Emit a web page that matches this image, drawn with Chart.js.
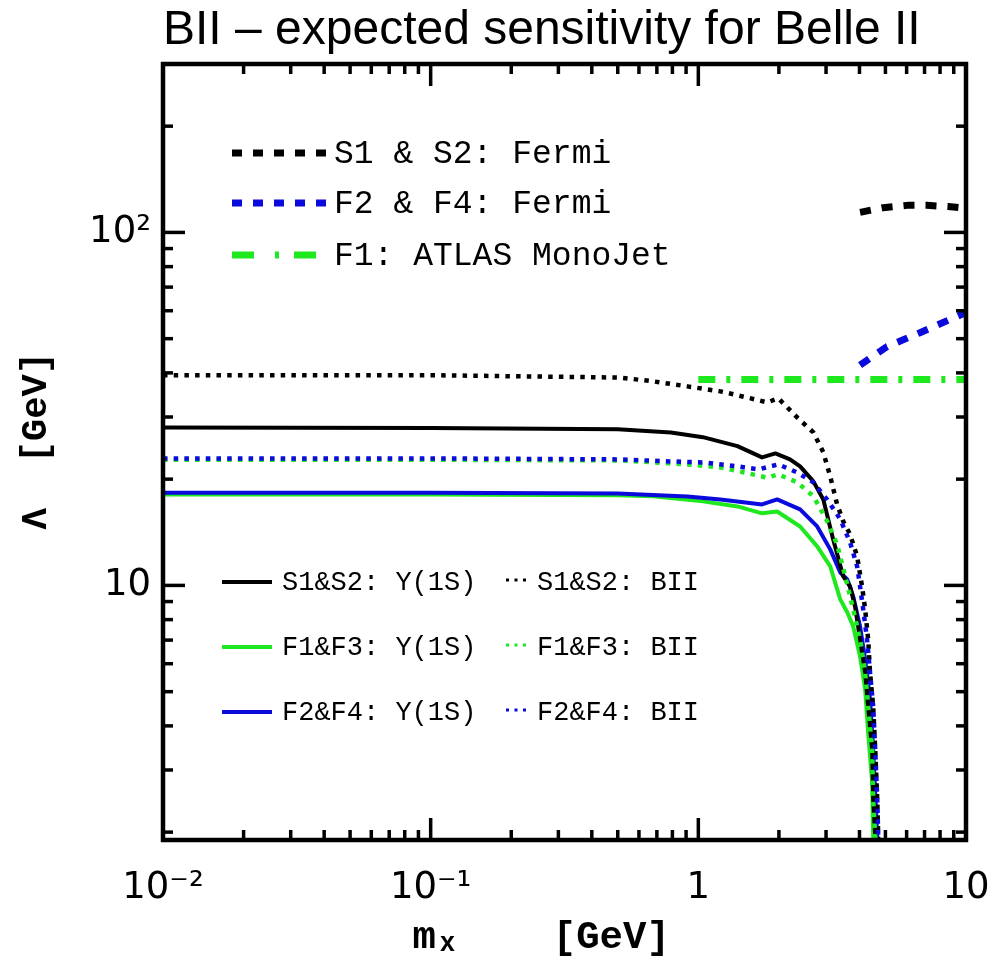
<!DOCTYPE html>
<html>
<head>
<meta charset="utf-8">
<script src="https://cdn.jsdelivr.net/npm/chart.js@4/dist/chart.umd.min.js"></script>
<style>
html,body{margin:0;padding:0;background:#fff;}
#wrap{width:1000px;height:966px;position:relative;}
</style>
</head>
<body>
<div id="wrap"><canvas id="c" width="1000" height="966"></canvas></div>
<script>
// ---- tick labels ----
const xTickValues = [0.01, 0.1, 1, 10];
const xTickLabels = ['10\u207B\u00B2', '10\u207B\u00B9', '1', '10'];
const yTickValues = [10, 100];
const yTickLabels = ['10', '10\u00B2'];

// ---- series: Upsilon(1S) bounds (solid) ----
const massS12Y   = [0.01, 0.1, 0.5, 0.79, 1.04, 1.40, 1.73, 1.94, 2.20, 2.40, 2.69, 2.93, 3.19, 3.48, 3.69, 3.85, 4.02, 4.20, 4.31, 4.46, 4.50, 4.58, 4.73];
const lambdaS12Y = [28.0, 27.9, 27.7, 27.1, 26.3, 24.8, 23.05, 23.65, 22.75, 21.74, 19.71, 17.52, 13.5, 10.6, 9.93, 8.72, 7.03, 5.67, 4.54, 3.43, 2.48, 1.945, 1.0];

const massF13Y   = [0.01, 0.1, 0.5, 0.68, 1.04, 1.40, 1.73, 1.97, 2.40, 2.78, 3.11, 3.39, 3.60, 3.79, 4.02, 4.20, 4.31, 4.46, 4.50, 4.73];
const lambdaF13Y = [18.1, 18.1, 18.0, 17.9, 17.3, 16.74, 16.0, 16.2, 14.69, 12.9, 11.32, 9.13, 8.39, 7.65, 6.29, 5.07, 3.83, 2.77, 1.945, 1.0];

const massF24Y   = [0.01, 0.1, 0.5, 0.91, 1.21, 1.73, 1.97, 2.40, 2.78, 3.11, 3.39, 3.60, 3.79, 4.02, 4.20, 4.38, 4.50, 4.66, 4.73];
const lambdaF24Y = [18.3, 18.3, 18.2, 17.87, 17.52, 16.96, 17.52, 16.42, 14.69, 12.65, 10.88, 10.4, 9.31, 7.65, 6.17, 4.75, 3.43, 1.945, 1.0];

// ---- series: Belle II expected (dotted) ----
const massS12B   = [0.01, 0.1, 0.51, 0.68, 0.91, 1.21, 1.52, 1.81, 1.99, 2.34, 2.69, 2.93, 3.11, 3.30, 3.48, 3.69, 3.92, 4.09, 4.20, 4.31, 4.38, 4.50, 4.58, 4.66, 4.70, 4.73];
const lambdaS12B = [39.4, 39.4, 38.8, 37.84, 36.63, 35.45, 34.08, 32.99, 33.9, 29.92, 27.13, 23.81, 20.36, 16.96, 15.18, 13.94, 12.08, 9.93, 8.55, 7.03, 5.67, 4.54, 3.43, 2.48, 1.945, 1.0];

const massF13B   = [0.01, 0.1, 0.51, 0.91, 1.21, 1.60, 1.81, 1.99, 2.34, 2.69, 3.03, 3.30, 3.60, 3.79, 4.02, 4.20, 4.31, 4.46, 4.50, 4.58, 4.73];
const lambdaF13B = [22.7, 22.7, 22.6, 22.02, 21.59, 20.63, 20.2, 20.63, 19.58, 17.9, 15.2, 13.07, 10.07, 8.55, 7.03, 5.67, 4.54, 3.43, 2.48, 1.945, 1.0];

const massF24B   = [0.01, 0.1, 0.51, 0.79, 1.04, 1.40, 1.68, 1.99, 2.34, 2.69, 3.03, 3.30, 3.39, 3.69, 3.92, 4.02, 4.13, 4.27, 4.38, 4.50, 4.58, 4.66, 4.70, 4.73];
const lambdaF24B = [22.9, 22.9, 22.75, 22.45, 22.31, 21.74, 21.31, 22.02, 20.9, 19.58, 17.5, 15.89, 15.38, 13.24, 11.32, 9.93, 8.55, 7.03, 5.67, 4.54, 3.43, 2.48, 1.945, 1.0];

// ---- series: Fermi / ATLAS ----
const massFermiS   = [4.02, 4.90, 6.03, 7.15, 8.57, 10];
const lambdaFermiS = [114, 117.5, 119.3, 119.3, 118.4, 117];
const massFermiF   = [4.02, 5.07, 6.73, 10];
const lambdaFermiF = [42.1, 47.5, 52.0, 59.3];
const massAtlas    = [1.0, 10];
const lambdaAtlas  = [38.3, 38.3];

// ---- labels ----
const chartTitle = 'BII \u2013 expected sensitivity for Belle II';
const xTitle = 'm\u2093    [GeV]  ';
const yTitle = ' \u039B  [GeV]';
const topLegendLabels = ['S1 & S2: Fermi', 'F2 & F4: Fermi', 'F1: ATLAS MonoJet'];
const bottomLegendLeft = ['S1&S2: \u03A5(1S)', 'F1&F3: \u03A5(1S)', 'F2&F4: \u03A5(1S)'];
const bottomLegendRight = ['S1&S2: BII', 'F1&F3: BII', 'F2&F4: BII'];

const BLACK = '#000000', GREEN = '#1ee81e', BLUE = '#0a0adc';
const DOT = [4.5, 6.2], DASH = [11, 11], DASHDOT = [17, 11, 4, 11];

const pts = (xs, ys) => xs.map((x, i) => ({x: x, y: ys[i]}));
const line = (label, xs, ys, color, width, dash) => ({
  label: label, data: pts(xs, ys), borderColor: color, backgroundColor: color,
  borderWidth: width, borderDash: dash, borderCapStyle: 'butt', borderJoinStyle: 'round',
  pointRadius: 0, pointHoverRadius: 0, fill: false, tension: 0
});

// dataset order: first is drawn on top
const datasets = [
  line(topLegendLabels[0], massFermiS, lambdaFermiS, BLACK, 7, DASH),
  line(topLegendLabels[1], massFermiF, lambdaFermiF, BLUE, 7, DASH),
  line(topLegendLabels[2], massAtlas, lambdaAtlas, GREEN, 7, DASHDOT),
  line(bottomLegendRight[2], massF24B, lambdaF24B, BLUE, 4.5, DOT),
  line(bottomLegendRight[1], massF13B, lambdaF13B, GREEN, 4.5, DOT),
  line(bottomLegendRight[0], massS12B, lambdaS12B, BLACK, 4.5, DOT),
  line(bottomLegendLeft[0], massS12Y, lambdaS12Y, BLACK, 4, []),
  line(bottomLegendLeft[2], massF24Y, lambdaF24Y, BLUE, 4, []),
  line(bottomLegendLeft[1], massF13Y, lambdaF13Y, GREEN, 4, [])
];

// minor / major tick values for inner tick marks
const xMinor = [], yMinor = [];
for (const d of [0.01, 0.1, 1]) for (let k = 2; k <= 9; k++) xMinor.push(+(d * k).toPrecision(3));
for (const d of [1, 10]) for (let k = 2; k <= 9; k++) yMinor.push(d * k);
yMinor.push(200);

const frameTicks = {
  id: 'frameTicks',
  afterDraw(chart) {
    const {ctx, chartArea: a, scales: {x, y}} = chart;
    ctx.save();
    ctx.setLineDash([]);
    ctx.strokeStyle = '#000';
    ctx.lineCap = 'butt';
    const seg = (x1, y1, x2, y2) => { ctx.beginPath(); ctx.moveTo(x1, y1); ctx.lineTo(x2, y2); ctx.stroke(); };
    ctx.lineWidth = 3.5;
    for (const v of xMinor) {
      const p = x.getPixelForValue(v);
      seg(p, a.bottom, p, a.bottom - 10); seg(p, a.top, p, a.top + 10);
    }
    for (const v of xTickValues) {
      const p = x.getPixelForValue(v);
      seg(p, a.bottom, p, a.bottom - 22); seg(p, a.top, p, a.top + 22);
    }
    for (const v of yMinor) {
      const p = y.getPixelForValue(v);
      seg(a.left, p, a.left + 10, p); seg(a.right, p, a.right - 10, p);
    }
    for (const v of yTickValues) {
      const p = y.getPixelForValue(v);
      seg(a.left, p, a.left + 22, p); seg(a.right, p, a.right - 22, p);
    }
    ctx.lineWidth = 4.5;
    ctx.strokeRect(a.left, a.top, a.right - a.left, a.bottom - a.top);
    ctx.restore();
  }
};

const customLegend = {
  id: 'customLegend',
  afterDraw(chart) {
    const ctx = chart.ctx;
    const ds = chart.data.datasets;
    const sample = (d, x1, x2, yy, w, dash) => {
      ctx.save();
      ctx.strokeStyle = d.borderColor;
      ctx.lineWidth = w;
      ctx.lineCap = 'butt';
      ctx.setLineDash(dash);
      ctx.beginPath(); ctx.moveTo(x1, yy); ctx.lineTo(x2, yy); ctx.stroke();
      ctx.restore();
    };
    ctx.save();
    ctx.fillStyle = '#000';
    ctx.textBaseline = 'middle';
    ctx.textAlign = 'left';
    // top legend
    const topRows = [153, 203, 255];
    ctx.font = '33px "Liberation Mono", "DejaVu Sans Mono", monospace';
    [0, 1, 2].forEach(i => {
      const d = ds.find(s => s.label === topLegendLabels[i]);
      sample(d, 232, 326, topRows[i], 7, i === 2 ? [22, 21, 4, 15] : [10, 11]);
      ctx.fillText(topLegendLabels[i], 334, topRows[i] + 1);
    });
    // bottom legend
    const rows = [582, 647, 712];
    ctx.font = '27px "Liberation Mono", "DejaVu Sans Mono", monospace';
    [0, 1, 2].forEach(i => {
      const dSolid = ds.find(s => s.label === bottomLegendLeft[i]);
      const dDot = ds.find(s => s.label === bottomLegendRight[i]);
      sample(dSolid, 222, 272, rows[i], 4, []);
      ctx.fillText(bottomLegendLeft[i], 282, rows[i] + 1);
      sample(dDot, 506, 530, rows[i] - 2, 3, [3, 5.5]);
      ctx.fillText(bottomLegendRight[i], 537, rows[i] + 1);
    });
    ctx.restore();
  }
};

new Chart(document.getElementById('c'), {
  type: 'line',
  data: {datasets: datasets},
  plugins: [frameTicks, customLegend],
  options: {
    responsive: false,
    animation: false,
    devicePixelRatio: 1,
    layout: {padding: {left: 0, right: 34, top: 0, bottom: 0}},
    plugins: {
      legend: {display: false},
      tooltip: {enabled: false},
      title: {
        display: true, text: chartTitle, fullSize: false, align: 'start',
        color: '#000',
        font: {family: '"Liberation Sans", Arial, sans-serif', size: 48, weight: 'normal', lineHeight: 1.2},
        padding: {top: 2, bottom: 4.4}
      }
    },
    scales: {
      x: {
        type: 'logarithmic', position: 'bottom', min: 0.01, max: 10,
        grid: {display: false, drawTicks: false},
        border: {display: false},
        afterBuildTicks: s => { s.ticks = xTickValues.map(v => ({value: v})); },
        afterFit: s => { s.height = 126; s.paddingLeft = 0; s.paddingRight = 0; },
        ticks: {
          autoSkip: false, maxRotation: 0, padding: 26, color: '#000',
          font: {family: '"DejaVu Sans", sans-serif', size: 37},
          callback: v => { const i = xTickValues.indexOf(v); return i >= 0 ? xTickLabels[i] : ''; }
        },
        title: {
          display: true, text: xTitle, color: '#000',
          font: {family: '"Liberation Mono", "DejaVu Sans Mono", monospace', size: 39, weight: 'bold', lineHeight: 1.2},
          padding: {top: 0, bottom: 4}
        }
      },
      y: {
        type: 'logarithmic', position: 'left', min: 1.9, max: 300,
        grid: {display: false, drawTicks: false},
        border: {display: false},
        afterBuildTicks: s => { s.ticks = yTickValues.map(v => ({value: v})); },
        afterFit: s => { s.width = 163; s.paddingTop = 0; s.paddingBottom = 0; },
        ticks: {
          autoSkip: false, padding: 12, color: '#000',
          font: {family: '"DejaVu Sans", sans-serif', size: 37},
          callback: v => { const i = yTickValues.indexOf(v); return i >= 0 ? yTickLabels[i] : ''; }
        },
        title: {
          display: true, text: yTitle, color: '#000',
          font: {family: '"Liberation Mono", "DejaVu Sans Mono", monospace', size: 37, weight: 'bold', lineHeight: 1.2},
          padding: {top: 14, bottom: 0}
        }
      }
    }
  }
});
</script>
</body>
</html>
